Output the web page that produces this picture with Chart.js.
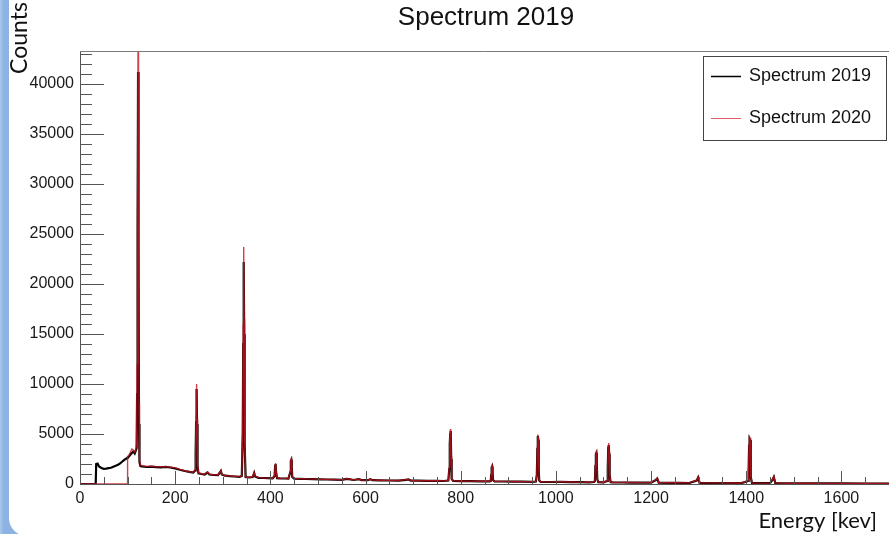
<!DOCTYPE html>
<html>
<head>
<meta charset="utf-8">
<title>Spectrum 2019</title>
<script src="https://cdn.jsdelivr.net/npm/chart.js@4.4.1/dist/chart.umd.min.js"></script>
<style>
  html, body { margin: 0; padding: 0; }
  body {
    width: 889px; height: 534px; overflow: hidden; position: relative;
    background: linear-gradient(to right, #a9c7ec 0px, #8db3e2 4px, #8db3e2 100%);
  }
  .sheet {
    position: absolute; left: 9px; top: -20px; width: 900px; height: 556px;
    background: #fff; border-bottom-left-radius: 18px;
  }
  #chart { position: absolute; left: 0; top: 0; }
</style>
</head>
<body>
<div class="sheet"></div>
<canvas id="chart" width="889" height="534"></canvas>
<script>
// spectrum data (energy in keV, counts per bin)
const seriesNames = ['Spectrum 2019', 'Spectrum 2020'];

const energies = [
  0, 33, 34, 37, 40, 45, 50, 55, 60, 65,
  70, 75, 80, 85, 90, 95, 99, 100, 103, 106,
  109, 112, 115, 117, 119, 120, 121, 122, 123, 124,
  125, 127, 130, 140, 150, 160, 170, 180, 190, 200,
  210, 220, 230, 238, 242, 243, 244, 245, 246, 247,
  249, 255, 262, 268, 272, 280, 290, 294, 296, 298,
  305, 315, 325, 335, 340, 342, 343, 344, 345, 346,
  348, 355, 363, 366, 368, 375, 385, 395, 405, 409,
  410, 411, 412, 414, 420, 430, 438, 442, 443, 444,
  445, 446, 450, 460, 475, 490, 505, 520, 535, 550,
  560, 565, 575, 586, 592, 605, 610, 615, 630, 650,
  670, 685, 690, 695, 710, 730, 750, 765, 774, 776,
  777, 778, 779, 780, 781, 784, 800, 820, 840, 860,
  863, 864, 865, 866, 867, 868, 871, 890, 910, 930,
  950, 958, 960, 961, 962, 963, 964, 965, 968, 990,
  1010, 1030, 1050, 1070, 1080, 1082, 1083, 1084, 1085, 1086,
  1087, 1089, 1100, 1108, 1109, 1110, 1111, 1112, 1113, 1115,
  1120, 1140, 1160, 1180, 1200, 1210, 1213, 1216, 1240, 1260,
  1280, 1296, 1299, 1302, 1330, 1360, 1390, 1404, 1405, 1406,
  1407, 1408, 1409, 1410, 1412, 1430, 1450, 1455, 1458, 1461,
  1480, 1520, 1560, 1600, 1650, 1700
];

const counts2019 = [
  0, 0, 2000, 2050, 1750, 1600, 1520, 1540, 1580, 1620,
  1720, 1820, 1930, 2080, 2300, 2480, 2600, 2650, 2750, 2950,
  3100, 3250, 3050, 3300, 3600, 9000, 25000, 41200, 24000, 6000,
  2200, 1800, 1760, 1700, 1730, 1690, 1660, 1710, 1650, 1560,
  1420, 1300, 1210, 1150, 1350, 3000, 6200, 9500, 6000, 1800,
  1060, 1000, 950, 1150, 950, 900, 880, 1150, 1300, 950,
  830, 780, 750, 720, 800, 5000, 14000, 22200, 15000, 4000,
  700, 650, 700, 1100, 750, 620, 600, 580, 570, 800,
  1800, 2000, 1200, 580, 560, 550, 540, 1200, 2300, 2400,
  1800, 700, 540, 520, 500, 480, 470, 450, 430, 420,
  520, 480, 400, 480, 390, 380, 480, 380, 360, 350,
  340, 420, 450, 340, 330, 320, 310, 300, 350, 1500,
  4000, 5000, 5300, 2500, 500, 300, 290, 280, 270, 270,
  300, 900, 1650, 1750, 1200, 400, 270, 250, 240, 230,
  220, 250, 900, 3500, 4800, 4400, 1500, 350, 220, 200,
  210, 190, 180, 170, 200, 300, 1800, 3000, 3100, 2000,
  500, 180, 170, 300, 1500, 3600, 3900, 3000, 900, 170,
  160, 150, 140, 130, 130, 400, 550, 140, 120, 110,
  100, 350, 650, 120, 100, 90, 90, 300, 1200, 3800,
  4500, 4400, 2600, 700, 90, 80, 80, 400, 700, 100,
  70, 70, 60, 55, 50, 45
];

const counts2020 = [
  0, 0, 0, 0, 0, 0, 0, 0, 0, 0,
  0, 0, 0, 0, 0, 0, 0, 2750, 2900, 3200,
  3500, 3400, 3200, 3450, 4000, 12000, 27500, 46000, 30000, 8000,
  2500, 1900, 1820, 1760, 1790, 1730, 1710, 1730, 1690, 1610,
  1460, 1330, 1230, 1170, 1450, 3500, 6900, 10000, 6500, 2000,
  1100, 1030, 980, 1200, 970, 930, 900, 1200, 1350, 980,
  850, 800, 770, 740, 830, 6000, 16000, 23700, 16500, 4500,
  720, 670, 720, 1150, 770, 640, 610, 590, 580, 850,
  1900, 2100, 1300, 590, 570, 560, 550, 1300, 2450, 2550,
  1900, 750, 550, 530, 510, 490, 480, 460, 440, 430,
  540, 500, 410, 490, 400, 390, 500, 390, 370, 360,
  350, 440, 460, 350, 340, 330, 320, 310, 370, 1700,
  4300, 5400, 5500, 2800, 550, 310, 300, 290, 280, 280,
  320, 950, 1750, 1850, 1300, 420, 280, 260, 250, 240,
  230, 260, 1000, 3700, 4950, 4600, 1600, 370, 230, 210,
  220, 200, 190, 180, 210, 320, 1900, 3100, 3200, 2100,
  520, 190, 180, 320, 1600, 3800, 4100, 3200, 950, 180,
  170, 160, 150, 140, 140, 420, 600, 150, 130, 120,
  110, 380, 700, 130, 110, 100, 100, 320, 1300, 4000,
  4700, 4600, 2800, 750, 100, 90, 90, 450, 750, 110,
  80, 75, 65, 60, 55, 50
];

const xTickValues = [0, 200, 400, 600, 800, 1000, 1200, 1400, 1600];
const yTickValues = [0, 5000, 10000, 15000, 20000, 25000, 30000, 35000, 40000];
const xMinorStep = 50;
const yMinorStep = 1000;

const lineColors = ['#000000', 'rgba(200, 20, 30, 0.8)'];
const legendColors = ['#000000', '#d9606a'];
const labelFont = { family: '"Liberation Sans", Arial, sans-serif', size: 16 };

function toPoints(values) {
  return energies.map(function (e, i) { return { x: e, y: values[i] }; });
}

// ROOT-like frame: inward ticks, top line, boxed legend and text labels
const rootDecor = {
  id: 'rootDecor',
  afterDraw: function (chart) {
    const ctx = chart.ctx;
    const area = chart.chartArea;
    const xs = chart.scales.x;
    const ys = chart.scales.y;

    ctx.save();
    ctx.lineWidth = 1;
    ctx.strokeStyle = '#7a7a7a';
    ctx.beginPath();
    ctx.moveTo(area.left, area.top + 0.5);
    ctx.lineTo(area.right, area.top + 0.5);
    ctx.stroke();

    ctx.strokeStyle = '#555';
    ctx.beginPath();
    for (let v = 0; v <= ys.max; v += yMinorStep) {
      const py = Math.round(ys.getPixelForValue(v)) + 0.5;
      const len = (v % 5000 === 0) ? 24 : 12;
      ctx.moveTo(area.left, py);
      ctx.lineTo(area.left + len, py);
    }
    for (let v = 0; v <= xs.max; v += xMinorStep) {
      const px = Math.round(xs.getPixelForValue(v)) + 0.5;
      const len = (v % 200 === 0) ? 13 : 7;
      ctx.moveTo(px, area.bottom);
      ctx.lineTo(px, area.bottom - len);
    }
    ctx.stroke();

    // title
    ctx.fillStyle = '#111';
    ctx.font = '26px "Liberation Sans", Arial, sans-serif';
    ctx.textAlign = 'center';
    ctx.textBaseline = 'middle';
    ctx.fillText('Spectrum 2019', 486, 18);

    // axis titles
    ctx.font = '23px Lato, "Open Sans", sans-serif';
    ctx.save();
    ctx.translate(20, 38);
    ctx.rotate(-Math.PI / 2);
    ctx.fillText('Counts', 0, 0);
    ctx.restore();
    ctx.font = '22px Lato, "Open Sans", sans-serif';
    ctx.textAlign = 'right';
    ctx.textBaseline = 'alphabetic';
    ctx.fillText('Energy [kev]', 877, 528);

    // legend
    ctx.fillStyle = '#fff';
    ctx.fillRect(703.5, 56.5, 183, 84);
    ctx.strokeStyle = '#444';
    ctx.lineWidth = 1;
    ctx.strokeRect(703.5, 56.5, 183, 84);
    ctx.font = '18px "Liberation Sans", Arial, sans-serif';
    ctx.textAlign = 'left';
    ctx.textBaseline = 'middle';
    const rowsY = [76, 118];
    chart.data.datasets.forEach(function (ds, i) {
      ctx.strokeStyle = legendColors[i];
      ctx.lineWidth = i === 0 ? 1.5 : 1;
      ctx.beginPath();
      ctx.moveTo(711, rowsY[i] + 0.5);
      ctx.lineTo(741, rowsY[i] + 0.5);
      ctx.stroke();
      ctx.fillStyle = '#111';
      ctx.fillText(ds.label, 749, rowsY[i]);
    });
    ctx.restore();
  }
};

new Chart(document.getElementById('chart'), {
  type: 'line',
  data: {
    datasets: [
      { label: seriesNames[0], data: toPoints(counts2019), borderColor: lineColors[0], borderWidth: 2.2, order: 2 },
      { label: seriesNames[1], data: toPoints(counts2020), borderColor: lineColors[1], borderWidth: 1.4, order: 1 }
    ]
  },
  options: {
    responsive: false,
    animation: false,
    devicePixelRatio: 1,
    elements: { point: { radius: 0 }, line: { tension: 0, fill: false } },
    layout: { padding: { top: 51, left: 0, right: 0, bottom: 0 } },
    plugins: { legend: { display: false }, tooltip: { enabled: false }, title: { display: false } },
    scales: {
      x: {
        type: 'linear', min: 0, max: 1700,
        afterBuildTicks: function (s) { s.ticks = xTickValues.map(function (v) { return { value: v }; }); },
        afterFit: function (s) { s.height = 50; },
        grid: { display: false, drawTicks: false },
        border: { display: true, color: '#555', width: 1 },
        ticks: { font: labelFont, color: '#1a1a1a', padding: 5, maxRotation: 0, autoSkip: false, callback: function (v) { return String(v); } }
      },
      y: {
        min: 0, max: 43300,
        afterBuildTicks: function (s) { s.ticks = yTickValues.map(function (v) { return { value: v }; }); },
        afterFit: function (s) { s.width = 80; },
        grid: { display: false, drawTicks: false },
        border: { display: true, color: '#555', width: 1 },
        ticks: { font: labelFont, color: '#1a1a1a', padding: 6, autoSkip: false, callback: function (v) { return String(v); } }
      }
    }
  },
  plugins: [rootDecor]
});
</script>
</body>
</html>
